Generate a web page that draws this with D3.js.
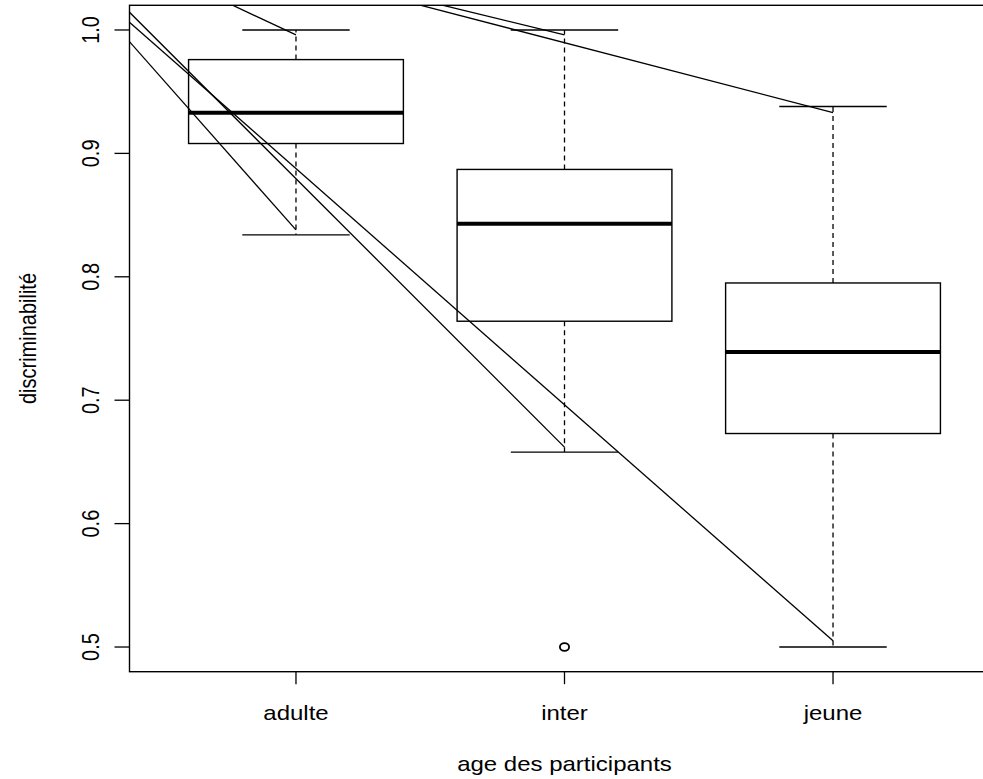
<!DOCTYPE html>
<html>
<head>
<meta charset="utf-8">
<script src="https://cdn.jsdelivr.net/npm/d3@7/dist/d3.min.js"></script>
<style>
	body { margin: 0; background: #fff; }
	svg { display: block; }
	text { font-family: "Liberation Sans", Arial, Helvetica, sans-serif; fill: #000; }
</style>
</head>
<body>
<div id="chart"></div>
<script>
// boxplot statistics
var categories = ["adulte", "inter", "jeune"];
var whiskerLow = [0.834, 0.658, 0.500];
var q1 = [0.908, 0.764, 0.673];
var median = [0.933, 0.843, 0.739];
var q3 = [0.976, 0.887, 0.795];
var whiskerHigh = [1.000, 1.000, 0.938];
var outlierGroup = [2];
var outlierValue = [0.500];

// straight segments drawn over the boxes (x in group units)
var segStartX = [0, 0, 0, 0, 0, 0];
var segStartV = [1.098, 1.102, 1.103, 1.084, 1.097, 1.079];
var segEndX = [1, 2, 3, 1, 2, 3];
var segEndV = [0.996, 0.996, 0.933, 0.838, 0.662, 0.505];

var yTicks = [0.5, 0.6, 0.7, 0.8, 0.9, 1.0];

var dims = {
	width: 983,
	height: 779,
	left: 129.5,
	top: 5.3,
	right: 999.5,
	bottom: 671.7,
	stretch: 1.2,
	font: 20
};

var x = d3.scaleLinear().domain([0.38, 3.62]).range([dims.left, dims.right]);
var y = d3.scaleLinear().domain([0.48, 1.02]).range([dims.bottom, dims.top]);

var svg = d3.select("#chart").append("svg")
	.attr("width", dims.width)
	.attr("height", dims.height);

svg.append("defs").append("clipPath").attr("id", "plotclip")
	.append("rect")
	.attr("x", dims.left)
	.attr("y", dims.top)
	.attr("width", dims.right - dims.left)
	.attr("height", dims.bottom - dims.top);

var plot = svg.append("g").attr("clip-path", "url(#plotclip)");

var idx = d3.range(categories.length);

// whiskers (dashed)
plot.selectAll("line.whisker-up").data(idx).enter().append("line")
	.attr("x1", function(i) { return x(i + 1); })
	.attr("x2", function(i) { return x(i + 1); })
	.attr("y1", function(i) { return y(q3[i]); })
	.attr("y2", function(i) { return y(whiskerHigh[i]); })
	.attr("stroke", "#000").attr("stroke-width", 1.3).attr("stroke-dasharray", "5,4");

plot.selectAll("line.whisker-down").data(idx).enter().append("line")
	.attr("x1", function(i) { return x(i + 1); })
	.attr("x2", function(i) { return x(i + 1); })
	.attr("y1", function(i) { return y(q1[i]); })
	.attr("y2", function(i) { return y(whiskerLow[i]); })
	.attr("stroke", "#000").attr("stroke-width", 1.3).attr("stroke-dasharray", "5,4");

// staples
[whiskerHigh, whiskerLow].forEach(function(arr) {
	plot.selectAll(null).data(idx).enter().append("line")
		.attr("x1", function(i) { return x(i + 1 - 0.2); })
		.attr("x2", function(i) { return x(i + 1 + 0.2); })
		.attr("y1", function(i) { return y(arr[i]); })
		.attr("y2", function(i) { return y(arr[i]); })
		.attr("stroke", "#000").attr("stroke-width", 1.3);
});

// boxes
plot.selectAll("rect.box").data(idx).enter().append("rect")
	.attr("x", function(i) { return x(i + 1 - 0.4); })
	.attr("y", function(i) { return y(q3[i]); })
	.attr("width", function(i) { return x(i + 1.4) - x(i + 0.6); })
	.attr("height", function(i) { return y(q1[i]) - y(q3[i]); })
	.attr("fill", "none").attr("stroke", "#000").attr("stroke-width", 1.4);

// medians
plot.selectAll("line.median").data(idx).enter().append("line")
	.attr("x1", function(i) { return x(i + 1 - 0.4); })
	.attr("x2", function(i) { return x(i + 1 + 0.4); })
	.attr("y1", function(i) { return y(median[i]); })
	.attr("y2", function(i) { return y(median[i]); })
	.attr("stroke", "#000").attr("stroke-width", 4);

// outliers
plot.selectAll("ellipse.out").data(d3.range(outlierValue.length)).enter().append("ellipse")
	.attr("cx", function(i) { return x(outlierGroup[i]); })
	.attr("cy", function(i) { return y(outlierValue[i]); })
	.attr("rx", 4.6).attr("ry", 3.9)
	.attr("fill", "none").attr("stroke", "#000").attr("stroke-width", 1.8);

// segments
plot.selectAll("line.seg").data(d3.range(segEndX.length)).enter().append("line")
	.attr("x1", function(i) { return x(segStartX[i]); })
	.attr("y1", function(i) { return y(segStartV[i]); })
	.attr("x2", function(i) { return x(segEndX[i]); })
	.attr("y2", function(i) { return y(segEndV[i]); })
	.attr("stroke", "#000").attr("stroke-width", 1.3);

// plot frame
svg.append("rect")
	.attr("x", dims.left).attr("y", dims.top)
	.attr("width", dims.right - dims.left)
	.attr("height", dims.bottom - dims.top)
	.attr("fill", "none").attr("stroke", "#000").attr("stroke-width", 1.4);

// x axis
var xAxis = svg.append("g");
xAxis.selectAll("line").data(idx).enter().append("line")
	.attr("x1", function(i) { return x(i + 1); })
	.attr("x2", function(i) { return x(i + 1); })
	.attr("y1", dims.bottom)
	.attr("y2", dims.bottom + 12.5)
	.attr("stroke", "#000").attr("stroke-width", 1.3);

xAxis.selectAll("text").data(idx).enter().append("text")
	.attr("transform", function(i) { return "translate(" + x(i + 1) + ",720) scale(" + dims.stretch + ",1)"; })
	.attr("text-anchor", "middle")
	.attr("font-size", dims.font)
	.text(function(i) { return categories[i]; });

// y axis
var yAxis = svg.append("g");
yAxis.selectAll("line").data(yTicks).enter().append("line")
	.attr("x1", dims.left)
	.attr("x2", dims.left - 15)
	.attr("y1", function(d) { return y(d); })
	.attr("y2", function(d) { return y(d); })
	.attr("stroke", "#000").attr("stroke-width", 1.3);

yAxis.selectAll("text").data(yTicks).enter().append("text")
	.attr("transform", function(d) { return "translate(99," + y(d) + ") scale(" + dims.stretch + ",1) rotate(-90)"; })
	.attr("text-anchor", "middle")
	.attr("font-size", dims.font)
	.text(function(d) { return d3.format(".1f")(d); });

// titles
svg.append("text")
	.attr("transform", "translate(" + x(2) + ",771) scale(" + dims.stretch + ",1)")
	.attr("text-anchor", "middle")
	.attr("font-size", dims.font)
	.text("age des participants");

svg.append("text")
	.attr("transform", "translate(36," + ((dims.top + dims.bottom) / 2) + ") scale(" + dims.stretch + ",1) rotate(-90)")
	.attr("text-anchor", "middle")
	.attr("font-size", dims.font)
	.text("discriminabilité");
</script>
</body>
</html>
